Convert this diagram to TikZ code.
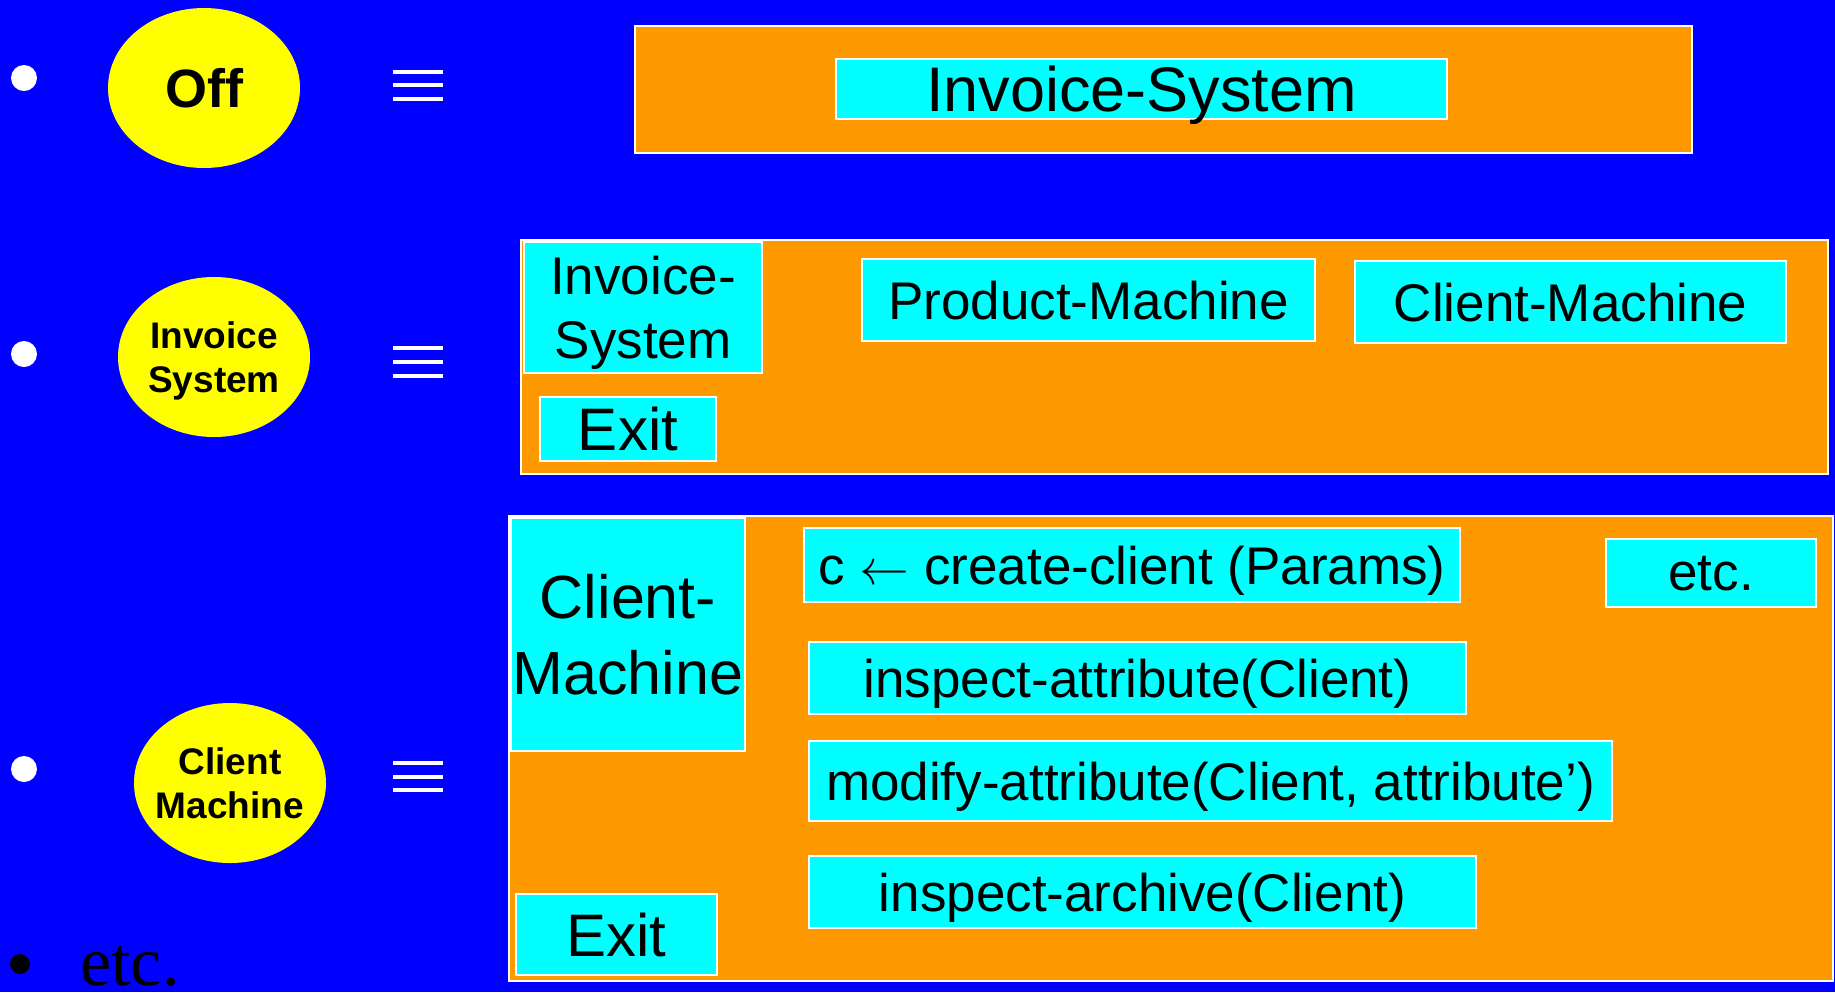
\documentclass[tikz,border=0pt]{standalone}
\usepackage{fontspec}
\setmainfont{Liberation Sans}
\newfontfamily\serifnote{Liberation Serif}
\usetikzlibrary{shapes.geometric}
\definecolor{bg}{HTML}{0000FF}
\definecolor{panel}{HTML}{FF9900}
\definecolor{chip}{HTML}{00FFFF}
\definecolor{bubble}{HTML}{FFFF00}
\newcommand{\fsz}[2]{\fontsize{#1}{#2}\selectfont}

\begin{document}
\begin{tikzpicture}[x=0.5pt,y=-0.5pt,
  panelbox/.style={draw=white, line width=1pt, fill=panel, inner sep=0pt},
  chipbox/.style={draw=white, line width=1pt, fill=chip, inner sep=0pt, text=black, align=center},
  oneline/.style={text depth=0pt},
  body/.style={font=\fsz{26.5pt}{32pt}},
  statenode/.style={ellipse, fill=bubble, inner sep=0pt, minimum width=96pt,
                    minimum height=80pt},
  statelabel/.style={inner sep=0pt, align=center, text=black, font=\bfseries\fsz{18.5pt}{22pt}},
  dotmark/.style={circle, fill=white, inner sep=0pt, minimum size=13pt},
  equivbar/.style={white, line width=2pt}]

% canvas
\useasboundingbox (0,0) rectangle (1835,992);
\fill[bg] (0,0) rectangle (1835,992);

% bullets
\node[dotmark] (b1) at (24,78) {};
\node[dotmark] (b2) at (24,354) {};
\node[dotmark] (b3) at (24,769) {};
\node[circle, fill=black, inner sep=0pt, minimum size=10pt] (b4) at (20,964) {};

% states
\node[statenode] (off) at (204,88) {};
\node[statelabel, oneline, font=\bfseries\fsz{27pt}{32pt}] (offtext) at (off.center) {Off};
\node[statenode] (invs) at (214,357) {};
\node[statelabel] (invstext) at (invs.center) {Invoice\\\smash{System}};
\node[statenode] (clim) at (230,783) {};
\node[statelabel] (climtext) at (clim.center) {Client\\\smash{Machine}};

% equivalence signs
\foreach \y in {72,85,99,348,362,376,763,777,790}
  \draw[equivbar] (393,\y) -- (443,\y);

% Off
\node[panelbox, minimum width=528.5pt, minimum height=63.5pt] (p1) at (1163.5,89.5) {};
\node[chipbox, oneline, font=\fsz{31.5pt}{38pt}, minimum width=305.5pt, minimum height=30pt] (p1sys) at (1141.5,89) {Invoice-System};

% Invoice System
\node[panelbox, minimum width=653.5pt, minimum height=117pt] (p2) at (1174.5,357) {};
\node[chipbox, body, minimum width=119pt, minimum height=65.5pt] (p2sys) at (643,307.5) {Invoice-\\\smash{System}};
\node[chipbox, oneline, font=\fsz{30pt}{36pt}, minimum width=88pt, minimum height=32pt] (p2exit) at (628,429) {Exit};
\node[chipbox, oneline, body, minimum width=226.5pt, minimum height=41pt] (p2prod) at (1088.5,300) {Product-Machine};
\node[chipbox, oneline, body, minimum width=215.5pt, minimum height=41pt] (p2cli) at (1570.5,302) {Client-Machine};

% Client Machine
\node[panelbox, minimum width=662pt, minimum height=232.5pt] (p3) at (1171,748.5) {};
\node[chipbox, font=\fsz{30.5pt}{38pt}, minimum width=117pt, minimum height=116.5pt] (p3cm) at (628,634.5) {Client-\\\smash{Machine}};
\node[chipbox, oneline, font=\fsz{30pt}{36pt}, minimum width=100.5pt, minimum height=40.5pt] (p3exit) at (616.5,934.5) {Exit};
\node[chipbox, oneline, body, minimum width=328pt, minimum height=37pt] (p3new) at (1132,565) {c $\leftarrow$ create-client (Params)};
\node[chipbox, oneline, body, minimum width=328.5pt, minimum height=36pt] (p3insp) at (1137.5,678) {inspect-attribute(Client)};
\node[chipbox, oneline, body, minimum width=401.5pt, minimum height=40pt] (p3mod) at (1210.5,781) {modify-attribute(Client, attribute’)};
\node[chipbox, oneline, body, minimum width=333.5pt, minimum height=36pt] (p3arch) at (1142.5,892) {inspect-archive(Client)};
\node[chipbox, oneline, body, minimum width=105pt, minimum height=34pt] (p3etc) at (1711,573) {etc.};

% trailing item
\node[anchor=base west, inner sep=0pt, font=\serifnote\fsz{35pt}{42pt}] (more) at (80,985) {etc.};
\end{tikzpicture}
\end{document}
